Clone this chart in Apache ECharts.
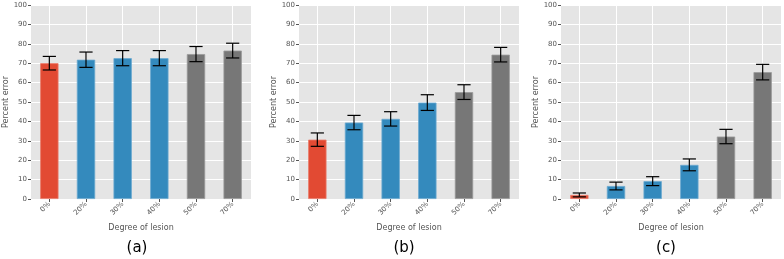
<!DOCTYPE html>
<html>
<head>
<meta charset="utf-8">
<script src="https://cdn.jsdelivr.net/npm/echarts@6/dist/echarts.min.js"></script>
<style>
  html, body { margin: 0; padding: 0; background: #fff; }
  #chart { width: 784px; height: 259px; }
</style>
</head>
<body>
<div id="chart"></div>
<script>
const categories = ['0%', '20%', '30%', '40%', '50%', '70%'];
const yTicks = { min: 0, max: 100, interval: 10 };
const panelLabels = ['(a)', '(b)', '(c)'];

// mean percent error and half-width of the error bar per degree of lesion
const meansA = [70.0, 71.8, 72.6, 72.6, 74.7, 76.5];
const errA = [3.5, 3.95, 3.9, 3.9, 3.9, 3.8];
const meansB = [30.6, 39.4, 41.3, 49.7, 55.1, 74.4];
const errB = [3.45, 3.7, 3.7, 4.05, 3.8, 3.75];
const meansC = [2.1, 6.7, 9.2, 17.6, 32.2, 65.4];
const errC = [1.0, 2.0, 2.3, 3.05, 3.7, 4.0];

const barColors = ['#E24A33', '#348ABD', '#348ABD', '#348ABD', '#777777', '#777777'];
const barEdges = ['#EA7B6A', '#6BA9D0', '#6BA9D0', '#6BA9D0', '#9A9A9A', '#9A9A9A'];

const panels = [
  { means: meansA, errs: errA, left: 31, center: 137 },
  { means: meansB, errs: errB, left: 299, center: 404 },
  { means: meansC, errs: errC, left: 561, center: 666 },
];

const font = 'DejaVu Sans';
const textGray = '#555555';

function renderErr(params, api) {
  const x = api.value(0);
  const lo = api.coord([x, api.value(1)]);
  const hi = api.coord([x, api.value(2)]);
  const half = api.size([1, 0])[0] * 0.18;
  const style = { stroke: '#000', lineWidth: 1.2 };
  return {
    type: 'group',
    children: [
      { type: 'line', shape: { x1: lo[0], y1: lo[1], x2: hi[0], y2: hi[1] }, style },
      { type: 'line', shape: { x1: lo[0] - half, y1: lo[1], x2: lo[0] + half, y2: lo[1] }, style },
      { type: 'line', shape: { x1: hi[0] - half, y1: hi[1], x2: hi[0] + half, y2: hi[1] }, style },
    ],
  };
}

const grid = [];
const xAxis = [];
const yAxis = [];
const series = [];
const graphic = [];

panels.forEach((p, i) => {
  grid.push({
    left: p.left, top: 5, width: 220, height: 194,
    show: true, backgroundColor: '#E5E5E5', borderWidth: 0,
  });
  xAxis.push({
    type: 'category', gridIndex: i, data: categories,
    name: 'Degree of lesion', nameLocation: 'middle', nameGap: 21,
    nameTextStyle: { fontFamily: font, fontSize: 8, color: textGray },
    axisLine: { show: false },
    axisTick: { show: true, alignWithLabel: true, length: 3, lineStyle: { color: textGray } },
    axisLabel: { rotate: 45, fontFamily: font, fontSize: 7, color: textGray, margin: 4 },
    splitLine: { show: true, alignWithLabel: true, lineStyle: { color: '#ffffff', width: 1 } },
  });
  yAxis.push({
    type: 'value', gridIndex: i, min: yTicks.min, max: yTicks.max, interval: yTicks.interval,
    name: 'Percent error', nameLocation: 'middle', nameGap: 21,
    nameTextStyle: { fontFamily: font, fontSize: 8, color: textGray },
    axisLine: { show: false },
    axisTick: { show: true, length: 3, lineStyle: { color: textGray } },
    axisLabel: { fontFamily: font, fontSize: 7, color: textGray, margin: 4 },
    splitLine: { show: true, lineStyle: { color: '#ffffff', width: 1 } },
  });
  series.push({
    type: 'bar', xAxisIndex: i, yAxisIndex: i, barWidth: '50%',
    data: p.means.map((v, k) => ({
      value: v,
      itemStyle: { color: barColors[k], borderColor: barEdges[k], borderWidth: 0.8 },
    })),
    silent: true,
  });
  series.push({
    type: 'custom', xAxisIndex: i, yAxisIndex: i, renderItem: renderErr,
    data: p.means.map((v, k) => [k, v - p.errs[k], v + p.errs[k]]),
    silent: true, z: 10,
  });
  graphic.push({
    type: 'text', x: p.center, y: 248,
    style: { text: panelLabels[i], font: '15px ' + font, fill: '#000', align: 'center', verticalAlign: 'middle' },
  });
});

const chart = echarts.init(document.getElementById('chart'), null, { renderer: 'canvas' });
chart.setOption({
  animation: false,
  grid, xAxis, yAxis, series, graphic,
});
</script>
</body>
</html>
